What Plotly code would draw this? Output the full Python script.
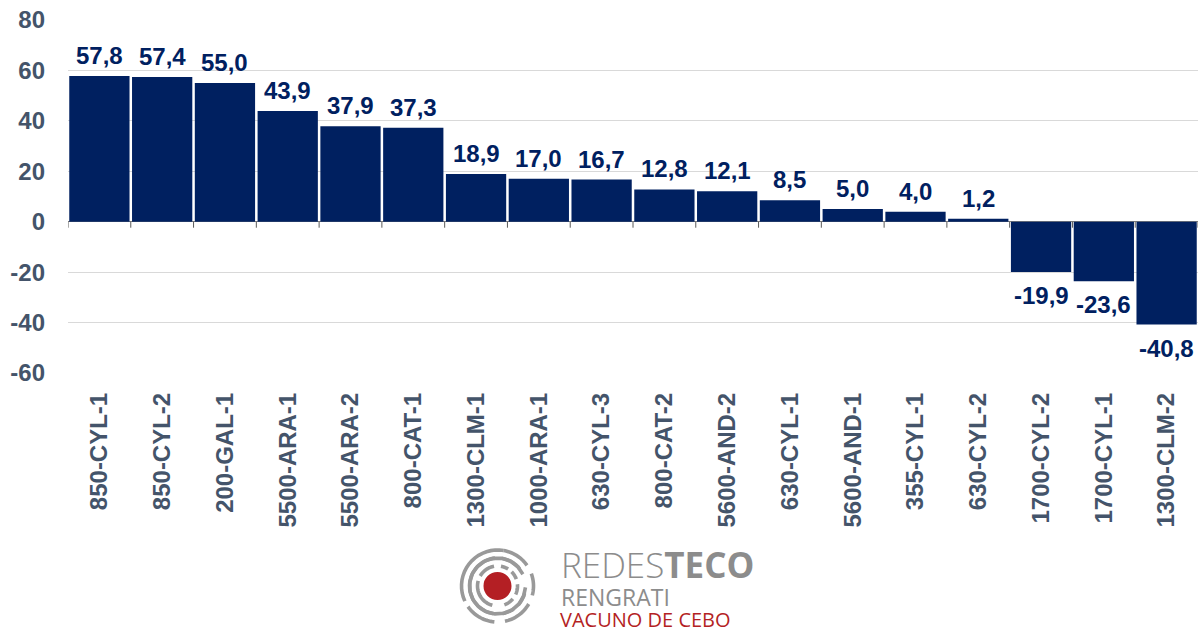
import math
import plotly.graph_objects as go

categories = ["850-CYL-1", "850-CYL-2", "200-GAL-1", "5500-ARA-1", "5500-ARA-2", "800-CAT-1",
              "1300-CLM-1", "1000-ARA-1", "630-CYL-3", "800-CAT-2", "5600-AND-2", "630-CYL-1",
              "5600-AND-1", "355-CYL-1", "630-CYL-2", "1700-CYL-2", "1700-CYL-1", "1300-CLM-2"]
values = [57.8, 57.4, 55.0, 43.9, 37.9, 37.3, 18.9, 17.0, 16.7, 12.8, 12.1, 8.5, 5.0, 4.0, 1.2,
          -19.9, -23.6, -40.8]
y_ticks = [-60, -40, -20, 0, 20, 40, 60, 80]
y_tick_text = ["-60", "-40", "-20", "0", "20", "40", "60", "80"]

NAVY = "#002060"
SLATE = "#44546A"
LOGO_GRAY = "#8C8C8C"
LOGO_RED = "#B41F24"

labels = [f"{v:.1f}".replace(".", ",") for v in values]

W, H = 1202, 630
ML, MR, MT, MB = 68, 4, 20, 257

fig = go.Figure(go.Bar(
    x=list(range(len(categories))), y=values, marker=dict(color=NAVY, line=dict(width=0)),
    cliponaxis=False, hoverinfo="skip",
))

shapes = []
for i in range(len(categories) + 1):
    shapes.append(dict(type="line", xref="x", yref="y", x0=i - 0.5, x1=i - 0.5,
                       ysizemode="pixel", yanchor=0, y0=0, y1=-6,
                       line=dict(color="#595959", width=1)))


def px(x):
    return (x - ML) / (W - ML - MR)


def py(y):
    return (H - MB - y) / (H - MT - MB)


cx, cy = 497.5, 586
shapes.append(dict(type="circle", xref="paper", yref="paper",
                   x0=px(cx - 14), x1=px(cx + 14), y0=py(cy + 14), y1=py(cy - 14),
                   fillcolor=LOGO_RED, line=dict(width=0)))


def add_arc(r, a0, a1, w=3.6):
    n = 18
    pts = []
    for k in range(n + 1):
        a = math.radians(a0 + (a1 - a0) * k / n)
        pts.append((cx + r * math.cos(a), cy - r * math.sin(a)))
    d = "M " + " L ".join(f"{px(x):.5f},{py(y):.5f}" for x, y in pts)
    shapes.append(dict(type="path", xref="paper", yref="paper", path=d,
                       line=dict(color="#999999", width=w)))


for (a0, a1) in [(100, 150), (165, 255), (290, 320), (335, 365), (20, 45), (58, 80)]:
    add_arc(20, a0, a1)
for (a0, a1) in [(95, 262), (280, 305), (318, 345), (357, 25), (38, 80)]:
    add_arc(28, a0, a1)
for (a0, a1) in [(80, 205), (215, 265), (282, 330), (345, 380), (395, 440)]:
    add_arc(36, a0, a1)

annotations = []
for i, (v, t) in enumerate(zip(values, labels)):
    pos = v >= 0
    annotations.append(dict(
        x=i, y=v, xref="x", yref="y", text=t, showarrow=False,
        xanchor="center", yanchor="bottom" if pos else "top",
        yshift=5 if pos else -8,
        font=dict(family="Liberation Sans", size=24, color=NAVY, weight="bold"),
    ))

annotations += [
    dict(xref="paper", yref="paper", x=px(559), y=py(564), xanchor="left", yanchor="middle",
         text="REDES<b>TECO</b>", showarrow=False,
         font=dict(family="Open Sans", size=35, color=LOGO_GRAY, weight=300)),
    dict(xref="paper", yref="paper", x=px(559), y=py(597), xanchor="left", yanchor="middle",
         text="RENGRATI", showarrow=False,
         font=dict(family="Open Sans", size=23, color=LOGO_GRAY, weight=400)),
    dict(xref="paper", yref="paper", x=px(559), y=py(619.5), xanchor="left", yanchor="middle",
         borderpad=0, text="VACUNO DE CEBO", showarrow=False,
         font=dict(family="Open Sans", size=20, color=LOGO_RED, weight=400)),
]

fig.update_layout(
    width=W, height=H,
    margin=dict(l=ML, r=MR, t=MT, b=MB, autoexpand=False),
    plot_bgcolor="white", paper_bgcolor="white",
    bargap=0.04, showlegend=False,
    shapes=shapes, annotations=annotations,
    xaxis=dict(tickmode="array", tickvals=list(range(len(categories))), ticktext=categories,
               tickangle=-90, range=[-0.5, len(categories) - 0.5], showgrid=False,
               showline=False, ticks="", ticklabelstandoff=14, automargin=False,
               tickfont=dict(family="Liberation Sans", size=24, color=SLATE, weight="bold")),
    yaxis=dict(range=[-60, 80], tickmode="array", tickvals=y_ticks, ticktext=y_tick_text,
               showgrid=True, gridcolor="#D9D9D9",
               gridwidth=1, zeroline=True, zerolinecolor="#7F7F7F", zerolinewidth=1,
               ticks="", ticklabelstandoff=22, automargin=False,
               tickfont=dict(family="Liberation Sans", size=24, color=SLATE, weight="bold")),
)

fig.write_html("out.html", config={"displayModeBar": False},
               post_script="document.body.style.margin='0px';")
